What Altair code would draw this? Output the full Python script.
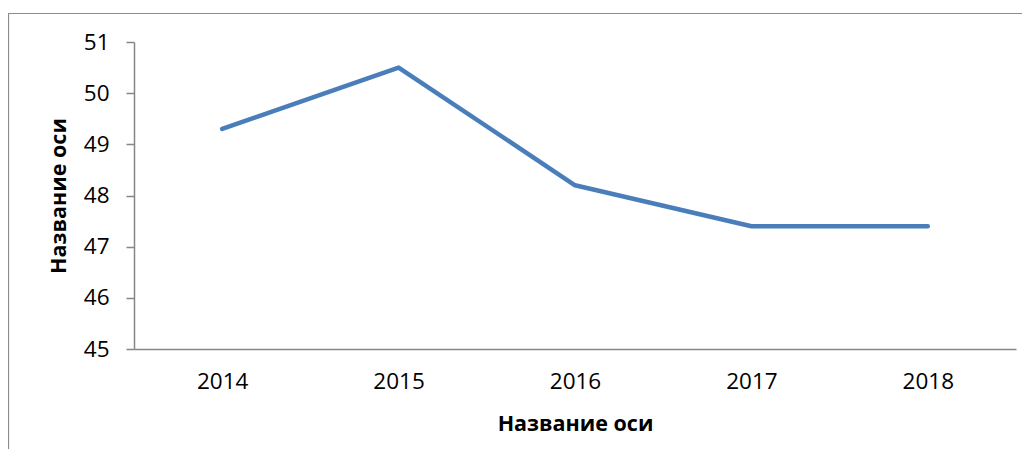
import altair as alt
import pandas as pd

years = ["2014", "2015", "2016", "2017", "2018"]
values = [49.3, 50.5, 48.2, 47.4, 47.4]
y_ticks = [45, 46, 47, 48, 49, 50, 51]
axis_title = "Название оси"

df = pd.DataFrame({"year": years, "value": values})

FONT = "Open Sans"
GRAY = "#868686"

line = alt.Chart(df).mark_line(
    color="#4a7ebb", strokeWidth=4.5, strokeCap="round", strokeJoin="round"
).encode(
    x=alt.X("year:O", sort=years,
            scale=alt.Scale(type="point", padding=0.5),
            axis=alt.Axis(title=axis_title, labelAngle=0, ticks=False,
                          domainColor=GRAY, domainWidth=1.5,
                          labelFont=FONT, labelFontSize=22.5, labelColor="#000000",
                          labelPadding=21,
                          titleFont=FONT, titleFontSize=21.5, titleFontWeight="bold",
                          titleColor="#000000", titleY=75, titleBaseline="middle")),
    y=alt.Y("value:Q",
            scale=alt.Scale(domain=[45, 51], nice=False, zero=False),
            axis=alt.Axis(title=axis_title, values=y_ticks, grid=False,
                          domainColor=GRAY, domainWidth=1.5,
                          tickColor=GRAY, tickSize=8, tickWidth=1.5,
                          labelFont=FONT, labelFontSize=22.5, labelColor="#000000",
                          labelPadding=17,
                          titleFont=FONT, titleFontSize=21.5, titleFontWeight="bold",
                          titleColor="#000000", titleAngle=270, titleX=-75,
                          titleY=153.5, titleAlign="center", titleBaseline="middle")),
)

frame = alt.Chart(pd.DataFrame({"a": [0]})).mark_rect(
    fill=None, stroke="#8c8c8c", strokeWidth=1.2
).encode(
    x=alt.value(-125.5), x2=alt.value(1200),
    y=alt.value(-28.5), y2=alt.value(600),
)

chart = alt.layer(frame, line).properties(
    width=882, height=307,
    autosize=alt.AutoSizeParams(type="none"),
    padding={"left": 126, "top": 34, "right": 6, "bottom": 100},
).configure_view(stroke=None)

chart.save("out.html", embed_options={"renderer": "svg", "actions": False})
